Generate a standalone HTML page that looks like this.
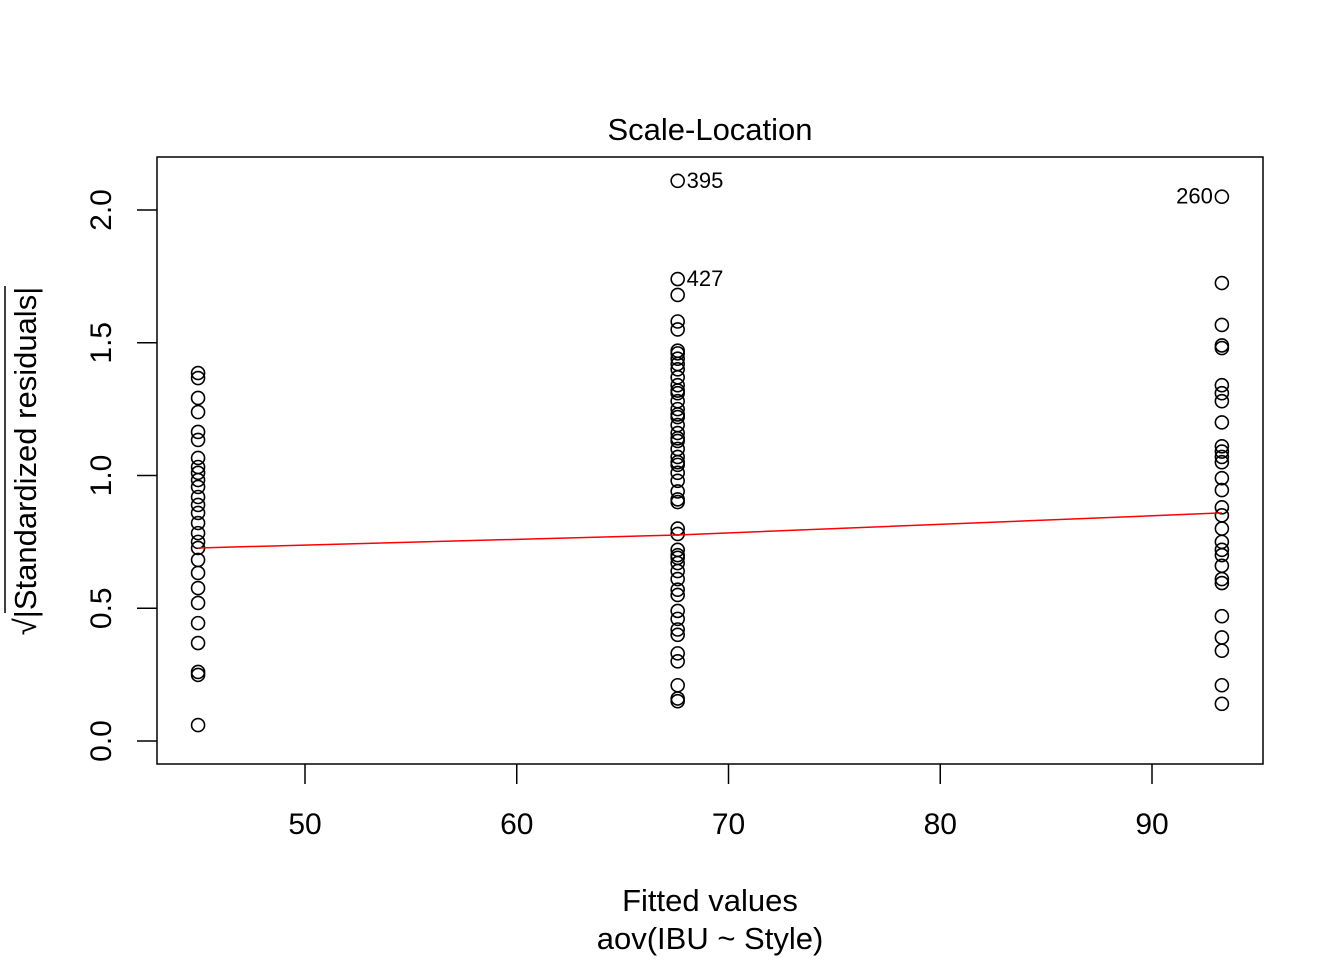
<!DOCTYPE html>
<html><head><meta charset="utf-8"><style>
html,body{margin:0;padding:0;background:#fff}
svg{display:block;font-family:"Liberation Sans",Arial,sans-serif}
</style></head><body>
<svg id="chart" width="1344" height="960" viewBox="0 0 1344 960">
<rect width="1344" height="960" fill="#fff"/>
<text x="710" y="140" font-size="31" text-anchor="middle">Scale-Location</text>
<rect x="157" y="157" width="1106" height="607" fill="none" stroke="#000" stroke-width="1.5"/>
<g id="xaxis"></g>
<g id="yaxis"></g>
<text x="710" y="911" font-size="31" text-anchor="middle">Fitted values</text>
<text x="710" y="949" font-size="31" text-anchor="middle">aov(IBU ~ Style)</text>
<g transform="translate(36,461) rotate(-90)">
<text x="0" y="0" font-size="31" text-anchor="middle">√|Standardized residuals|</text>
<line x1="-152" y1="-31" x2="175" y2="-31" stroke="#000" stroke-width="1.5"/>
</g>
<g id="points"></g>
<g id="smooth"></g>
<g id="labels"></g>
</svg>
<script>
const fitted = [44.95, 67.6, 93.3];
const group1 = [1.386,1.367,1.292,1.239,1.164,1.134,1.066,1.032,1.01,0.983,0.957,0.919,0.889,0.859,0.821,0.783,0.75,0.727,0.682,0.633,0.576,0.52,0.444,0.369,0.26,0.249,0.06];
const group2 = [2.11,1.74,1.68,1.58,1.55,1.47,1.46,1.44,1.42,1.40,1.37,1.34,1.32,1.31,1.28,1.25,1.23,1.22,1.19,1.16,1.14,1.13,1.10,1.07,1.05,1.04,1.01,0.98,0.94,0.91,0.90,0.80,0.78,0.72,0.70,0.69,0.67,0.64,0.61,0.57,0.55,0.49,0.46,0.42,0.40,0.33,0.30,0.21,0.16,0.15];
const group3 = [2.05,1.725,1.567,1.49,1.48,1.34,1.31,1.28,1.20,1.11,1.09,1.07,1.05,0.99,0.945,0.88,0.85,0.80,0.75,0.72,0.70,0.66,0.61,0.595,0.47,0.39,0.34,0.21,0.14];
const smoothY = [0.727, 0.776, 0.859];
const outlierLabels = ["395","427","260"];
const outlierGroup = [1,1,2];
const outlierValue = [2.11,1.74,2.05];
const xTicks = [50,60,70,80,90];
const yTicks = ["0.0","0.5","1.0","1.5","2.0"];

const NS="http://www.w3.org/2000/svg";
const X = v => 305 + (v-50)*21.175;
const Y = v => 741 - v*265.5;
function mk(tag, attrs, parent){const e=document.createElementNS(NS,tag);for(const k in attrs)e.setAttribute(k,attrs[k]);parent.appendChild(e);return e;}

const xa=document.getElementById('xaxis');
xTicks.forEach(t=>{
  const l=mk('line',{x1:X(t),x2:X(t),y1:764,y2:784,stroke:'#000','stroke-width':1.5},xa);
  
  
  const tx=mk('text',{x:X(t),y:834,'font-size':30,'text-anchor':'middle'},xa);
  tx.textContent=t;
  
  
});
const ya=document.getElementById('yaxis');
yTicks.forEach(t=>{
  const v=parseFloat(t);
  const l=mk('line',{x1:137,x2:157,y1:Y(v),y2:Y(v),stroke:'#000','stroke-width':1.5},ya);
  
  
  const tx=mk('text',{x:0,y:0,'font-size':30,'text-anchor':'middle',transform:`translate(111,${Y(v)}) rotate(-90)`},ya);
  tx.textContent=t;
  
  
});
const pg=document.getElementById('points');
[group1,group2,group3].forEach((g,i)=>{
  g.forEach(v=>{
    const c=mk('circle',{cx:X(fitted[i]),cy:Y(v),r:6.5,fill:'none',stroke:'#000','stroke-width':1.6},pg);
    
    
  });
});
const sg=document.getElementById('smooth');
const pl=mk('polyline',{points:fitted.map((f,i)=>X(f)+','+Y(smoothY[i])).join(' '),fill:'none',stroke:'#ff0000','stroke-width':1.5},sg);


const lg=document.getElementById('labels');
outlierLabels.forEach((s,i)=>{
  const gi=outlierGroup[i];
  const left = gi===2;
  const tx=mk('text',{x:X(fitted[gi])+(left?-9:9),y:Y(outlierValue[i])+7,'font-size':22,'text-anchor':left?'end':'start'},lg);
  tx.textContent=s;
  
  
});
</script>
</body></html>
